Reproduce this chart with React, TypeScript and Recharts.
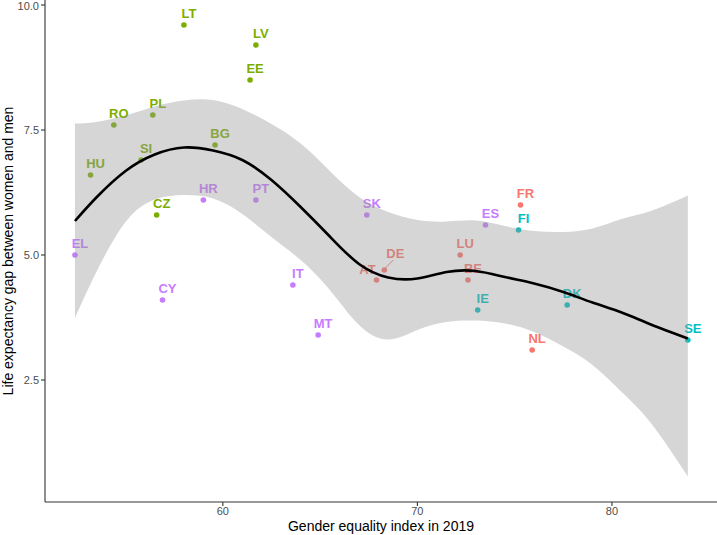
import React from 'react';
import { ComposedChart, Scatter, Line, Area, XAxis, YAxis } from 'recharts';

// EU member states, gender equality index vs. life expectancy gap
const countries = ['LT', 'LV', 'EE', 'RO', 'PL', 'BG', 'SI', 'HU', 'CZ', 'HR', 'PT', 'EL', 'CY', 'IT', 'MT', 'SK', 'ES', 'FR', 'FI', 'LU', 'DE', 'AT', 'BE', 'IE', 'DK', 'NL', 'SE'];
const regions = ['east', 'east', 'east', 'east', 'east', 'east', 'east', 'east', 'east', 'south', 'south', 'south', 'south', 'south', 'south', 'south', 'south', 'west', 'north', 'west', 'west', 'west', 'west', 'north', 'north', 'west', 'north'];
const geIndex = [58.0, 61.7, 61.4, 54.4, 56.4, 59.6, 55.8, 53.2, 56.6, 59.0, 61.7, 52.4, 56.9, 63.6, 64.9, 67.4, 73.5, 75.3, 75.2, 72.2, 68.3, 67.9, 72.6, 73.1, 77.7, 75.9, 83.9];
const lifeGap = [9.6, 9.2, 8.5, 7.6, 7.8, 7.2, 6.9, 6.6, 5.8, 6.1, 6.1, 5.0, 4.1, 4.4, 3.4, 5.8, 5.6, 6.0, 5.5, 5.0, 4.7, 4.5, 4.5, 3.9, 4.0, 3.1, 3.3];

// loess fit and its confidence band
const smoothX = [52.4, 53.5, 55, 56.5, 58, 59.5, 61, 62.5, 64, 65.5, 67, 68.5, 70, 71.5, 73, 74.5, 76, 77.5, 79, 80.5, 82, 83.9];
const fit = [5.68, 6.15, 6.68, 7.01, 7.15, 7.09, 6.9, 6.5, 5.96, 5.37, 4.82, 4.55, 4.53, 4.66, 4.68, 4.56, 4.43, 4.26, 4.05, 3.85, 3.61, 3.33];
const upper = [7.63, 7.66, 7.79, 7.97, 8.09, 8.1, 7.92, 7.62, 7.23, 6.68, 6.16, 5.86, 5.7, 5.67, 5.69, 5.58, 5.48, 5.46, 5.53, 5.72, 5.88, 6.19];
const lower = [3.74, 4.66, 5.66, 6.11, 6.2, 6.13, 5.82, 5.36, 4.9, 4.3, 3.6, 3.31, 3.5, 3.66, 3.69, 3.63, 3.46, 3.17, 2.8, 2.26, 1.64, 0.57];

const xTicks = [60, 70, 80];
const yTicks = [2.5, 5, 7.5, 10];

const groupColor: Record<string, string> = {
  east: '#7CAE00',
  south: '#C77CFF',
  west: '#F8766D',
  north: '#00BFC4',
};

// repelled labels that don't sit in the usual spot
const labelNudge: Record<string, [number, number]> = { DE: [11, -17], AT: [-9, -11] };

const FONT = '"Liberation Sans", Arial, Helvetica, sans-serif';

const points = countries.map((code, i) => ({ x: geIndex[i], y: lifeGap[i], code, group: regions[i] }));
const smooth = smoothX.map((x, i) => ({ x, fit: fit[i], band: [lower[i], upper[i]] }));

function CountryDot(props: any) {
  const { cx, cy, payload } = props;
  if (cx == null || cy == null) return null;
  const color = groupColor[payload.group];
  const [dx, dy] = labelNudge[payload.code] ?? [5, -12];
  return (
    <g>
      {payload.code === 'DE' && (
        <line x1={cx + 1} y1={cy - 2} x2={cx + 9} y2={cy - 10} stroke={color} strokeWidth={1} />
      )}
      <circle cx={cx} cy={cy} r={2.8} fill={color} />
      <text
        x={cx + dx}
        y={cy + dy + 4.7}
        textAnchor="middle"
        fill={color}
        fontSize={13}
        fontWeight="bold"
        fontFamily={FONT}
      >
        {payload.code}
      </text>
    </g>
  );
}

export default function App() {
  return (
    <div style={{ position: 'absolute', left: 0, top: 0, width: 717, height: 535, background: '#fff', fontFamily: FONT }}>
      <ComposedChart width={717} height={535} margin={{ top: 0, right: 0, bottom: 0, left: 0 }}>
        <XAxis
          dataKey="x"
          type="number"
          domain={[50.86, 85.4]}
          ticks={xTicks}
          allowDataOverflow
          height={33}
          stroke="#333"
          strokeWidth={1.1}
          tickSize={4}
          tickMargin={1}
          tick={{ fill: '#4D4D4D', fontSize: 11, fontFamily: FONT }}
          label={{ value: 'Gender equality index in 2019', position: 'insideBottom', offset: 4, fill: '#000', fontSize: 14, fontFamily: FONT }}
        />
        <YAxis
          type="number"
          domain={[0.06, 10.1]}
          ticks={yTicks}
          allowDataOverflow
          width={45}
          stroke="#333"
          strokeWidth={1.1}
          tickSize={4}
          tickMargin={2}
          tickFormatter={(v: number) => v.toFixed(1)}
          tick={{ fill: '#4D4D4D', fontSize: 11, fontFamily: FONT }}
          label={{
            value: 'Life expectancy gap between women and men',
            angle: -90,
            position: 'insideLeft',
            offset: 8,
            fill: '#000',
            fontSize: 14,
            fontFamily: FONT,
            style: { textAnchor: 'middle' },
          }}
        />
        <Scatter data={points} dataKey="y" shape={CountryDot} isAnimationActive={false} zIndex={50} />
        <Area
          data={smooth}
          dataKey="band"
          type="natural"
          fill="#999999"
          fillOpacity={0.4}
          stroke="none"
          isAnimationActive={false}
        />
        <Line
          data={smooth}
          dataKey="fit"
          type="natural"
          stroke="#000"
          strokeWidth={2.6}
          dot={false}
          activeDot={false}
          isAnimationActive={false}
        />
      </ComposedChart>
    </div>
  );
}
